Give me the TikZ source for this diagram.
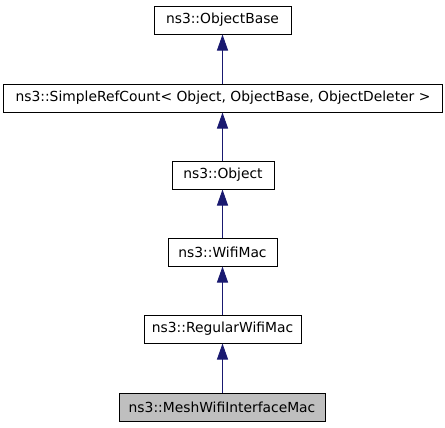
\documentclass[tikz,border=0pt]{standalone}
\usepackage{fontspec}
\setmainfont{DejaVu Sans}
\usetikzlibrary{arrows.meta}
\definecolor{edgeblue}{HTML}{191970}
\definecolor{curgray}{HTML}{BFBFBF}
\begin{document}
\begin{tikzpicture}[x=1bp,y=-1bp,
  cls/.style={draw=black,line width=1bp,inner sep=0pt,minimum height=28bp,fill=white,font=\fontsize{13.9}{15}\selectfont},
  cur/.style={cls,fill=curgray},
  inh/.style={draw=edgeblue,line width=1bp,-{Triangle[length=16bp,width=11bp,fill=edgeblue]}}]
\useasboundingbox (0,0) rectangle (445,427);
\node[cls,minimum width=137bp] (ob) at (222.5,20) {ns3::ObjectBase};
\node[cls,minimum width=438bp] (src) at (223,98) {ns3::SimpleRefCount< Object, ObjectBase, ObjectDeleter >};
\node[cls,minimum width=102bp] (obj) at (223,175) {ns3::Object};
\node[cls,minimum width=109bp] (wm) at (222.5,252) {ns3::WifiMac};
\node[cls,minimum width=157bp] (rwm) at (222.5,329) {ns3::RegularWifiMac};
\node[cur,minimum width=206bp] (mesh) at (222,407) {ns3::MeshWifiInterfaceMac};
\draw[inh] (src.north -| ob.south) -- (ob.south);
\draw[inh] (obj.north -| ob.south) -- (src.south -| ob.south);
\draw[inh] (wm.north -| ob.south) -- (obj.south -| ob.south);
\draw[inh] (rwm.north -| ob.south) -- (wm.south -| ob.south);
\draw[inh] (mesh.north -| ob.south) -- (rwm.south -| ob.south);
\end{tikzpicture}
\end{document}
